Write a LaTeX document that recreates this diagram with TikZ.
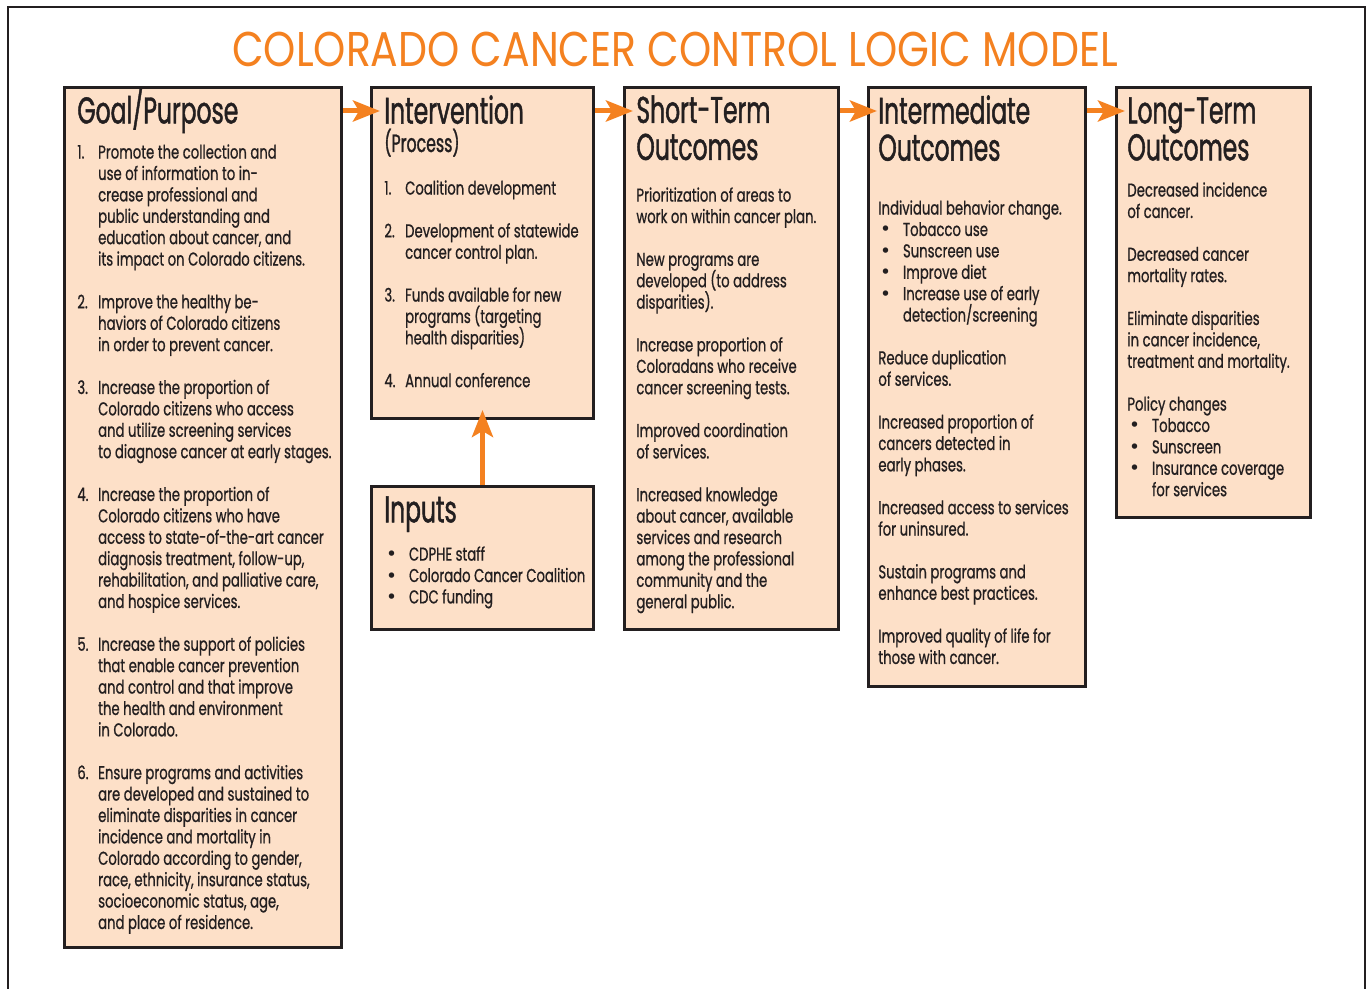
\documentclass[tikz,border=0pt]{standalone}
\usepackage{fontspec}
\setmainfont{Poppins}[FakeStretch=0.71, FakeBold=0.8]
\newfontfamily\headfont{Poppins}[FakeStretch=0.63, FakeBold=1.2]
\newfontfamily\titlefont{Poppins}[FakeStretch=0.84]
\newfontfamily\dotfont{DejaVu Sans}
\usetikzlibrary{arrows.meta}
\definecolor{peach}{RGB}{253,224,200}
\definecolor{logicorange}{RGB}{244,129,32}
\definecolor{ink}{RGB}{35,31,32}
\newcommand\nlab[1]{\makebox[10.4pt][l]{#1}}
\newcommand\nind{\hspace*{10.4pt}}
\newcommand\bul{\hspace*{0.8pt}\makebox[11.5pt][l]{\dotfont\textbullet}}
\newcommand\bind{\hspace*{12.3pt}}
\newcommand\tightlines{\lineskiplimit-20pt\relax\lineskip0pt\relax}
\tikzset{
  panel/.style={draw=ink, fill=peach, line width=1.5pt, anchor=north west, inner sep=0pt},
  heading/.style={anchor=north west, inner sep=0pt, align=left, text=ink,
    font=\headfont\fontsize{18.6}{18.5}\selectfont},
  body/.style={anchor=north west, inner sep=0pt, align=left, text=ink,
    font=\fontsize{9.3}{10.7}\selectfont\tightlines},
  flow/.style={draw=logicorange, line width=2.5pt,
    -{Stealth[length=13.5pt,width=10.5pt,inset=3pt]}}
}
\begin{document}
\begin{tikzpicture}[x=0.5pt, y=-0.5pt]
\useasboundingbox (0,0) rectangle (1369,989);
% frame and title
\draw[ink, line width=1pt] (8,989) -- (8,7) -- (1365,7) -- (1365,989);
\node[text=logicorange, font=\titlefont\fontsize{24.4}{26}\selectfont, anchor=base] (title) at (675,67)
  {COLORADO CANCER CONTROL LOGIC MODEL};

% boxes
\node[panel, minimum width=138.5pt, minimum height=430pt] (goal) at (63,86) {};
\node[panel, minimum width=111pt, minimum height=165.5pt] (intv) at (370,86) {};
\node[panel, minimum width=111pt, minimum height=71.5pt] (inp) at (370,485) {};
\node[panel, minimum width=107pt, minimum height=271pt] (short) at (623,86) {};
\node[panel, minimum width=108.5pt, minimum height=299.5pt] (inter) at (867,86) {};
\node[panel, minimum width=97pt, minimum height=215pt] (long) at (1115,86) {};

% arrows
\foreach \a/\b in {goal/intv, intv/short, short/inter, inter/long}
  \draw[flow] ([yshift=-12.5pt]\a.north east) -- ([xshift=5pt, yshift=-12.5pt]\b.north west);
\draw[flow] (inp.north) -- ([yshift=5pt]intv.south);

% headings
\node[heading] (goalhead) at (77,88) {Goal/Purpose};
\node[heading] (intvhead) at (384,95) {Intervention};
\node[anchor=base west, inner sep=0pt, text=ink, font=\headfont\fontsize{12.5}{13}\selectfont] (intvsub) at (384,152) {(Process)};
\node[heading] (inphead) at (384,496) {Inputs};
\node[heading] (shorthead) at (636,95) {Short-Term\\Outcomes};
\node[heading] (interhead) at (878,95) {Intermediate\\Outcomes};
\node[heading] (longhead) at (1127,97) {Long-Term\\Outcomes};

% goal/purpose
\node[body] (goaltxt) at (77,144) {%
\nlab{1.}Promote the collection and\\
\nind use of information to in-\\
\nind crease professional and\\
\nind public understanding and\\
\nind education about cancer, and\\
\nind its impact on Colorado citizens.\\[10.7pt]
\nlab{2.}Improve the healthy be-\\
\nind haviors of Colorado citizens\\
\nind in order to prevent cancer.\\[10.7pt]
\nlab{3.}Increase the proportion of\\
\nind Colorado citizens who access\\
\nind and utilize screening services\\
\nind to diagnose cancer at early stages.\\[10.7pt]
\nlab{4.}Increase the proportion of\\
\nind Colorado citizens who have\\
\nind access to state-of-the-art cancer\\
\nind diagnosis treatment, follow-up,\\
\nind rehabilitation, and palliative care,\\
\nind and hospice services.\\[10.7pt]
\nlab{5.}Increase the support of policies\\
\nind that enable cancer prevention\\
\nind and control and that improve\\
\nind the health and environment\\
\nind in Colorado.\\[10.7pt]
\nlab{6.}Ensure programs and activities\\
\nind are developed and sustained to\\
\nind eliminate disparities in cancer\\
\nind incidence and mortality in\\
\nind Colorado according to gender,\\
\nind race, ethnicity, insurance status,\\
\nind socioeconomic status, age,\\
\nind and place of residence.};

% intervention
\node[body] (intvtxt) at (384,180) {%
\nlab{1.}Coalition development\\[10.7pt]
\nlab{2.}Development of statewide\\
\nind cancer control plan.\\[10.7pt]
\nlab{3.}Funds available for new\\
\nind programs (targeting\\
\nind health disparities)\\[10.7pt]
\nlab{4.}Annual conference};

% inputs
\node[body] (inptxt) at (384,546) {%
\bul CDPHE staff\\
\bul Colorado Cancer Coalition\\
\bul CDC funding};

% short-term
\node[body] (shorttxt) at (636,187) {%
Prioritization of areas to\\
work on within cancer plan.\\[10.7pt]
New programs are\\
developed (to address\\
disparities).\\[10.7pt]
Increase proportion of\\
Coloradans who receive\\
cancer screening tests.\\[10.7pt]
Improved coordination\\
of services.\\[10.7pt]
Increased knowledge\\
about cancer, available\\
services and research\\
among the professional\\
community and the\\
general public.};

% intermediate
\node[body] (intertxt) at (878,200) {%
Individual behavior change.\\
\bul Tobacco use\\
\bul Sunscreen use\\
\bul Improve diet\\
\bul Increase use of early\\
\bind detection/screening\\[10.7pt]
Reduce duplication\\
of services.\\[10.7pt]
Increased proportion of\\
cancers detected in\\
early phases.\\[10.7pt]
Increased access to services\\
for uninsured.\\[10.7pt]
Sustain programs and\\
enhance best practices.\\[10.7pt]
Improved quality of life for\\
those with cancer.};

% long-term
\node[body] (longtxt) at (1127,182) {%
Decreased incidence\\
of cancer.\\[10.7pt]
Decreased cancer\\
mortality rates.\\[10.7pt]
Eliminate disparities\\
in cancer incidence,\\
treatment and mortality.\\[10.7pt]
Policy changes\\
\bul Tobacco\\
\bul Sunscreen\\
\bul Insurance coverage\\
\bind for services};
\end{tikzpicture}
\end{document}
